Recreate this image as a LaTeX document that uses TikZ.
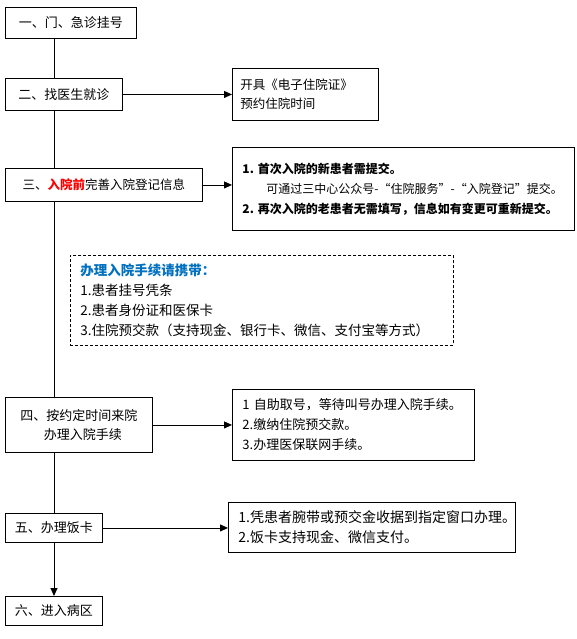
\documentclass[tikz,border=0pt]{standalone}
\usepackage{fontspec}
\setmainfont{Noto Sans CJK SC}
\usetikzlibrary{arrows.meta}
\definecolor{hblue}{RGB}{0,112,192}
\definecolor{hred}{RGB}{255,0,0}
\begin{document}
\begin{tikzpicture}[x=1pt,y=-1pt,
  mainbox/.style={draw,line width=0.9pt,anchor=north west,inner sep=0pt,align=center,
    font=\fontsize{13}{19}\selectfont,fill=white},
  sidebox/.style={draw,line width=0.9pt,anchor=north west,inner ysep=0pt,align=left,fill=white},
  arr/.style={line width=0.9pt,-{Triangle[length=8pt,width=7pt]}},
  spine/.style={line width=0.9pt}]
\useasboundingbox (0,0) rectangle (577,639);
% main column
\node[mainbox,minimum width=131pt,minimum height=31pt] (s1) at (5,7) {一、门、急诊挂号};
\node[mainbox,minimum width=117pt,minimum height=32pt] (s2) at (5,78) {二、找医生就诊};
\node[mainbox,minimum width=197pt,minimum height=33pt,font=\fontsize{12.5}{19}\selectfont] (s3) at (5,168)
  {三、{\bfseries\color{hred}入院前}完善入院登记信息};
\node[mainbox,minimum width=147pt,minimum height=55pt] (s4) at (5,397) {四、按约定时间来院\\\hspace*{8pt}办理入院手续};
\node[mainbox,minimum width=97pt,minimum height=29pt] (s5) at (5,513) {五、办理饭卡};
\node[mainbox,minimum width=97pt,minimum height=29pt] (s6) at (5,596) {六、进入病区};
% side boxes
\node[sidebox,minimum width=146pt,minimum height=52pt,inner xsep=8pt,text width=130pt,
  font=\fontsize{12.5}{19}\selectfont] (r1) at (232,68) {开具《电子住院证》\\预约住院时间};
\node[sidebox,minimum width=342pt,minimum height=83pt,inner xsep=10pt,text width=322pt,
  font=\fontsize{12}{20}\selectfont] (r3) at (232,147)
  {\textbf{1.~首次入院的新患者需提交。}\\
   \hspace*{24pt}可通过三中心公众号-“住院服务”-“入院登记”提交。\\
   \textbf{2.~再次入院的老患者无需填写，信息如有变更可重新提交。}};
\node[sidebox,dashed,dash pattern=on 3pt off 2pt,line width=0.8pt,minimum width=383pt,minimum height=90pt,
  inner xsep=10pt,text width=363pt,font=\fontsize{13.5}{20}\selectfont] (d) at (70,255)
  {{\bfseries\color{hblue}办理入院手续请携带：}\\
   1.患者挂号凭条\\
   2.患者身份证和医保卡\\
   3.住院预交款（支持现金、银行卡、微信、支付宝等方式）};
\node[sidebox,minimum width=242pt,minimum height=71pt,inner xsep=10pt,text width=222pt,
  font=\fontsize{13}{20}\selectfont] (r4) at (232,389)
  {1~自助取号，等待叫号办理入院手续。\\
   2.缴纳住院预交款。\\
   3.办理医保联网手续。};
\node[sidebox,minimum width=287pt,minimum height=50pt,inner xsep=10pt,text width=267pt,
  font=\fontsize{14}{20}\selectfont] (r5) at (228,502)
  {1.凭患者腕带或预交金收据到指定窗口办理。\\
   2.饭卡支持现金、微信支付。};
% spine
\coordinate (sp) at (54,0);
\draw[spine] (s1.south -| sp) -- (s2.north -| sp);
\draw[spine] (s2.south -| sp) -- (s3.north -| sp);
\draw[spine] (s3.south -| sp) -- (s4.north -| sp);
\draw[spine] (s4.south -| sp) -- (s5.north -| sp);
\draw[arr] (s5.south -| sp) -- (s6.north -| sp);
% side arrows
\draw[arr] (s2.east) -- (s2.east -| r1.west);
\draw[arr] (s3.east) -- (s3.east -| r3.west);
\draw[arr] (s4.east) -- (s4.east -| r4.west);
\draw[arr] (s5.east) -- (s5.east -| r5.west);
\end{tikzpicture}
\end{document}
